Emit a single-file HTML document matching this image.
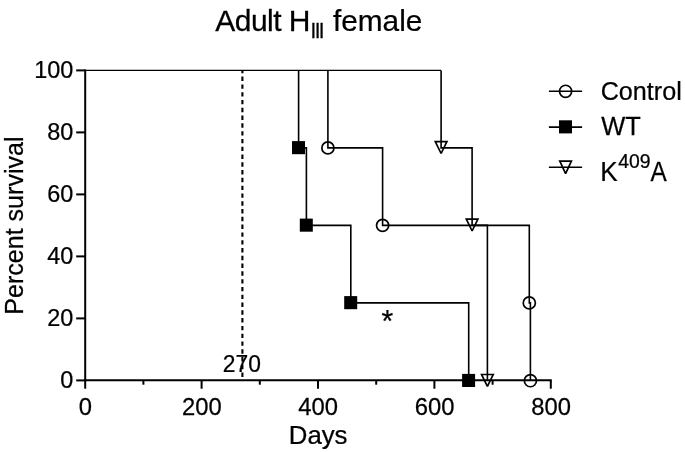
<!DOCTYPE html>
<html><head><meta charset="utf-8"><title>Adult H III female</title>
<style>
html,body{margin:0;padding:0;background:#fff;}
svg{display:block}
text{font-family:"Liberation Sans",sans-serif;fill:#000;stroke:#000;stroke-width:0.25px}
</style></head><body>
<svg width="685" height="452" viewBox="0 0 685 452">
<rect width="685" height="452" fill="#fff"/>

<text transform="translate(215.30,31.4) scale(1.0005,1)" font-size="30" letter-spacing="-0.55">Adult H</text>
<text transform="translate(310.48,37.8) scale(0.9581,1)" font-size="21.5" letter-spacing="-1.6">III</text>
<text transform="translate(332.90,31.4) scale(0.9938,1)" font-size="30" >female</text>
<text transform="translate(288.80,444.4) scale(0.9991,1)" font-size="25.8" >Days</text>
<text transform="translate(600.70,99.6) scale(0.9566,1)" font-size="26.3" >Control</text>
<text transform="translate(601.36,135.3) scale(0.9675,1)" font-size="26.3" >WT</text>
<text transform="translate(600.37,180.9) scale(0.9460,1)" font-size="27.6" >K</text>
<text transform="translate(618.20,168.3) scale(1.0049,1)" font-size="19.3" >409</text>
<text transform="translate(650.60,180.9) scale(0.8822,1)" font-size="27.6" >A</text>
<text transform="translate(222.82,371.6) scale(0.9438,1)" font-size="24.2" >270</text>
<text transform="translate(381.61,331.8) scale(0.9818,1)" font-size="30.7" >*</text>
<text transform="translate(22.6,314.67) rotate(-90) scale(0.9641,1)" font-size="26.0">Percent survival</text>
<g stroke="#000" stroke-width="2" fill="none" stroke-linecap="butt">
<path d="M85.2 69.4 V381.3"/>
<path d="M84.2 380.3 H551.8"/>
<path d="M76.2 380.4 H85.2"/>
<path d="M76.2 318.4 H85.2"/>
<path d="M76.2 256.4 H85.2"/>
<path d="M76.2 194.4 H85.2"/>
<path d="M76.2 132.4 H85.2"/>
<path d="M76.2 70.4 H85.2"/>
<path d="M85.2 380.3 V388.7"/>
<path d="M201.6 380.3 V388.7"/>
<path d="M318.0 380.3 V388.7"/>
<path d="M434.4 380.3 V388.7"/>
<path d="M550.8 380.3 V388.7"/>
<path d="M143.4 380.3 V384.7"/>
<path d="M259.8 380.3 V384.7"/>
<path d="M376.2 380.3 V384.7"/>
<path d="M492.6 380.3 V384.7"/>
</g>
<text transform="translate(73.3,388.2) scale(0.97,1)" font-size="24.2" text-anchor="end">0</text>
<text transform="translate(73.3,326.2) scale(0.97,1)" font-size="24.2" text-anchor="end">20</text>
<text transform="translate(73.3,264.2) scale(0.97,1)" font-size="24.2" text-anchor="end">40</text>
<text transform="translate(73.3,202.2) scale(0.97,1)" font-size="24.2" text-anchor="end">60</text>
<text transform="translate(73.3,140.2) scale(0.97,1)" font-size="24.2" text-anchor="end">80</text>
<text transform="translate(73.3,78.2) scale(0.97,1)" font-size="24.2" text-anchor="end">100</text>
<text transform="translate(85.4,415.2) scale(0.985,1)" font-size="24.2" text-anchor="middle">0</text>
<text transform="translate(201.8,415.2) scale(0.985,1)" font-size="24.2" text-anchor="middle">200</text>
<text transform="translate(318.2,415.2) scale(0.985,1)" font-size="24.2" text-anchor="middle">400</text>
<text transform="translate(434.6,415.2) scale(0.985,1)" font-size="24.2" text-anchor="middle">600</text>
<text transform="translate(551.0,415.2) scale(0.985,1)" font-size="24.2" text-anchor="middle">800</text>
<path d="M242.4 70.4 V376.9" stroke="#000" stroke-width="2.1" stroke-dasharray="4.4 3.39" stroke-dashoffset="1.59" fill="none"/>
<g stroke="#000" stroke-width="1.6" fill="none" stroke-linejoin="miter">
<path d="M85.2 70.4 H441.1" stroke-width="1.1"/>
<path d="M298.6 70.4 H298.6 V147.9 H306.4 V225.4 H350.8 V302.9 H468.7 V380.4"/>
<path d="M327.9 70.4 H327.9 V147.9 H382.6 V225.4 H529.3 V302.9 H530.4 V380.4"/>
<path d="M441.1 70.4 H441.1 V147.9 H472.1 V225.4 H487.4 V380.4"/>
</g>
<rect x="292.0" y="141.1" width="13" height="13.1" fill="#000"/>
<rect x="299.8" y="218.6" width="13" height="13.1" fill="#000"/>
<rect x="344.2" y="296.1" width="13" height="13.1" fill="#000"/>
<rect x="462.1" y="373.9" width="13" height="13.1" fill="#000"/>
<circle cx="327.9" cy="147.9" r="6.05" fill="none" stroke="#000" stroke-width="1.7"/>
<circle cx="382.6" cy="225.4" r="6.05" fill="none" stroke="#000" stroke-width="1.7"/>
<circle cx="529.3" cy="302.9" r="6.05" fill="none" stroke="#000" stroke-width="1.7"/>
<circle cx="530.4" cy="380.7" r="6.05" fill="none" stroke="#000" stroke-width="1.7"/>
<path d="M435.3 141.70 H446.9 L441.1 153.50 Z" fill="none" stroke="#000" stroke-width="1.7" stroke-linejoin="miter" stroke-miterlimit="2"/>
<path d="M466.3 219.20 H477.9 L472.1 231.00 Z" fill="none" stroke="#000" stroke-width="1.7" stroke-linejoin="miter" stroke-miterlimit="2"/>
<path d="M481.6 374.50 H493.2 L487.4 386.30 Z" fill="none" stroke="#000" stroke-width="1.7" stroke-linejoin="miter" stroke-miterlimit="2"/>
<path d="M548.9 91.3 H582.1" stroke="#000" stroke-width="1.6"/>
<circle cx="565.6" cy="91.3" r="6.05" fill="none" stroke="#000" stroke-width="1.7"/>
<path d="M548.9 127.1 H582.1" stroke="#000" stroke-width="1.6"/>
<rect x="559.0" y="120.3" width="13" height="13.1" fill="#000"/>
<path d="M548.9 167.2 H582.1" stroke="#000" stroke-width="1.6"/>
<path d="M559.8 161.20 H571.4 L565.6 173.60 Z" fill="none" stroke="#000" stroke-width="1.7" stroke-linejoin="miter" stroke-miterlimit="2"/>
</svg></body></html>
